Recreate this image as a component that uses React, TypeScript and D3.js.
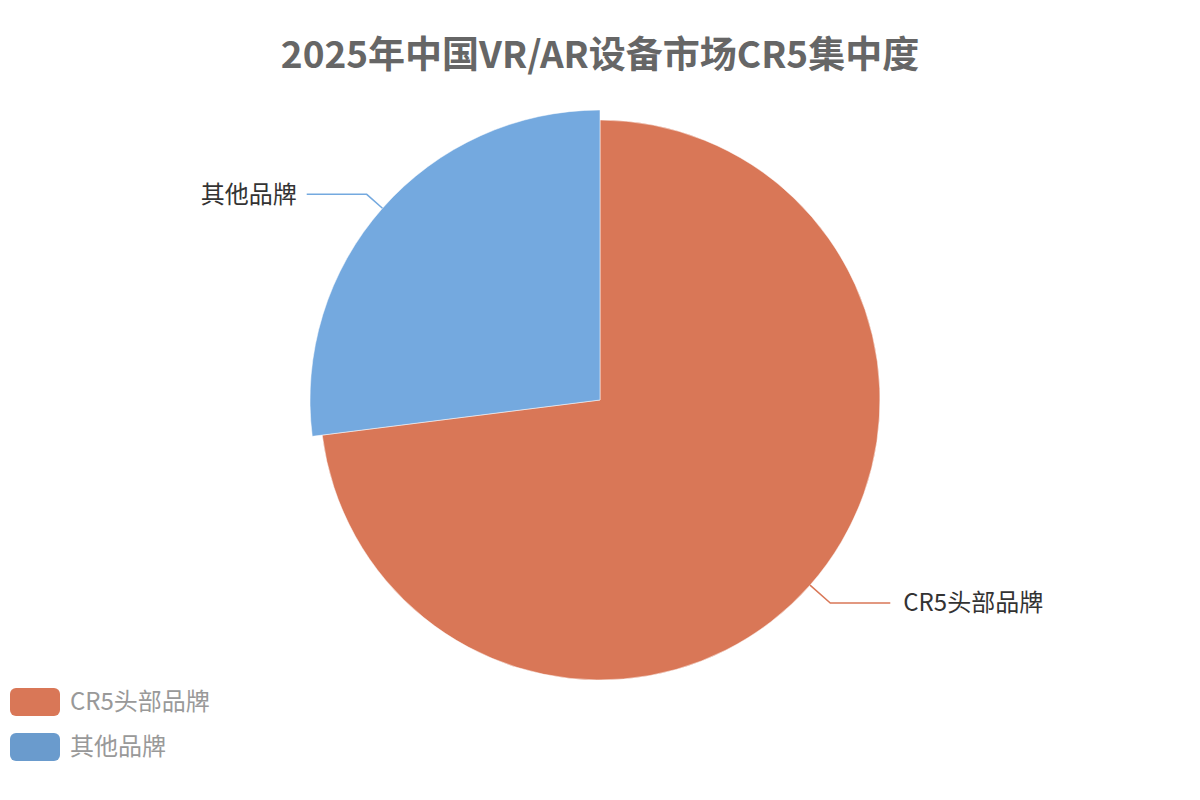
import { useEffect, useRef } from "react";
import * as d3 from "d3";

const categories = ["CR5头部品牌", "其他品牌"];
const shares = [73, 27];
const sliceColors = ["#d97757", "#74a9df"];
const legendColors = ["#d97757", "#6a9bcd"];

const W = 1200;
const H = 800;
const FONT = "'Noto Sans CJK SC', 'Noto Sans', sans-serif";

export default function App() {
  const svgRef = useRef<SVGSVGElement | null>(null);

  useEffect(() => {
    const svg = d3.select(svgRef.current);
    svg.selectAll("*").remove();

    const cx = 600;
    const cy = 400;
    const r = 280;

    svg
      .append("text")
      .attr("x", W / 2)
      .attr("y", 68)
      .attr("text-anchor", "middle")
      .attr("font-family", FONT)
      .attr("font-size", 37)
      .attr("font-weight", "bold")
      .attr("fill", "#666")
      .text("2025年中国VR/AR设备市场CR5集中度");

    const data = categories.map((name, i) => ({ name, value: shares[i], i }));
    const pie = d3
      .pie<{ name: string; value: number; i: number }>()
      .value((d) => d.value)
      .sort(null);
    const arcs = pie(data);

    const g = svg.append("g").attr("transform", `translate(${cx},${cy})`);

    // 其他品牌 slice is drawn slightly enlarged (emphasis)
    const outerR = (i: number) => (i === 1 ? r + 10 : r);
    const lineLen = (i: number) => (i === 1 ? 21 : 27);

    g.selectAll("path")
      .data(arcs)
      .join("path")
      .attr("d", (d) =>
        d3.arc<any>().innerRadius(0).outerRadius(outerR(d.data.i))(d)!
      )
      .attr("fill", (d) => sliceColors[d.data.i])
      .attr("stroke", "#fff")
      .attr("stroke-width", 0.5);

    // label lines
    arcs.forEach((d) => {
      const mid = (d.startAngle + d.endAngle) / 2;
      const R = outerR(d.data.i);
      const L = lineLen(d.data.i);
      const p0 = [Math.sin(mid) * R, -Math.cos(mid) * R];
      const p1 = [Math.sin(mid) * (R + L), -Math.cos(mid) * (R + L)];
      const right = Math.sin(mid) > 0;
      const p2 = [p1[0] + (right ? 60 : -60), p1[1]];
      g.append("polyline")
        .attr("points", [p0, p1, p2].map((p) => p.join(",")).join(" "))
        .attr("fill", "none")
        .attr("stroke", sliceColors[d.data.i])
        .attr("stroke-width", 1.5);
      g.append("text")
        .attr("x", p2[0] + (right ? 13 : -10))
        .attr("y", p2[1])
        .attr("dy", "0.35em")
        .attr("text-anchor", right ? "start" : "end")
        .attr("font-family", FONT)
        .attr("font-size", 24)
        .attr("fill", "#333")
        .text(d.data.name);
    });

    // legend
    const legend = svg
      .append("g")
      .selectAll("g")
      .data(categories)
      .join("g")
      .attr("transform", (_, i) => `translate(10,${688 + i * 45})`);
    legend
      .append("rect")
      .attr("width", 50)
      .attr("height", 28)
      .attr("rx", 6)
      .attr("fill", (_, i) => legendColors[i]);
    legend
      .append("text")
      .attr("x", 60)
      .attr("y", 14)
      .attr("dy", "0.35em")
      .attr("font-family", FONT)
      .attr("font-size", 24)
      .attr("fill", "#999")
      .text((d) => d);
  }, []);

  return (
    <svg
      ref={svgRef}
      width={W}
      height={H}
      style={{ position: "absolute", left: 0, top: 0, background: "#fff" }}
    />
  );
}
